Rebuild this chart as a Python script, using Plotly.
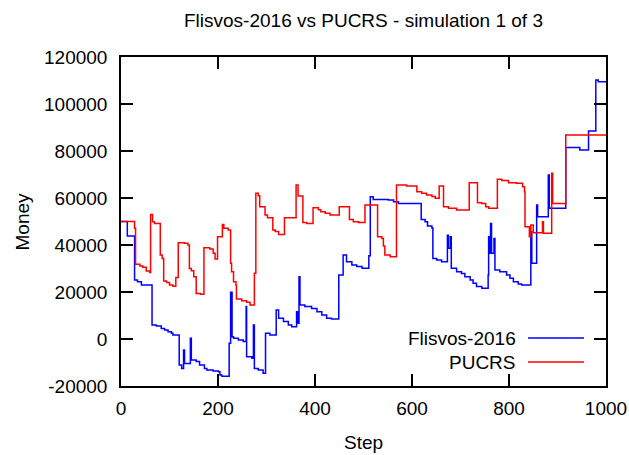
import plotly.graph_objects as go

# ---------------- data (step-function breakpoints) ----------------
flisvos_steps = [0, 13, 28, 34, 42, 64, 73, 83, 90, 97, 104, 107, 120, 125, 129, 131, 143, 145, 155, 162,
                 172, 177, 190, 201, 204, 208, 223, 226, 229, 232, 242, 252, 258, 259, 270, 273, 275, 283,
                 293, 298, 307, 320, 325, 335, 345, 352, 362, 364, 367, 369, 379, 393, 404, 414, 424, 434,
                 449, 458, 465, 476, 486, 497, 511, 514, 520, 551, 562, 572, 619, 627, 632, 641, 643, 651,
                 661, 673, 675, 679, 681, 692, 702, 709, 720, 726, 733, 744, 757, 758, 760, 762, 764, 769,
                 771, 781, 795, 802, 809, 819, 826, 845, 847, 857, 859, 881, 883, 917, 946, 964, 979, 984,
                 1000]
flisvos_money = [50000, 43800, 25100, 24400, 23000, 6000, 5500, 4500, 3800, 3100, 2400, 1700, -11100, -12500,
                 -4700, -10400, 300, -8900, -9600, -11100, -12500, -13200, -13600, -13900, -15300, -15800,
                 -1800, 19900, 1000, 300, -400, -1100, 13800, -7500, -8200, 6000, -12500, -13200, -14600,
                 2400, 1700, 12300, 8800, 7400, 6000, 5200, 11600, 6700, 26500, 14500, 13800, 13000, 11600,
                 10200, 8800, 8500, 27200, 35700, 32900, 31500, 30800, 30100, 35400, 60500, 59400, 59100,
                 58400, 57700, 50900, 49900, 48100, 47200, 34300, 33600, 32900, 44200, 38600, 43500, 30100,
                 28600, 27900, 26500, 25100, 23700, 22300, 21600, 27200, 43500, 36500, 49200, 36500, 42800,
                 29400, 28600, 27200, 25800, 24400, 23400, 23000, 45600, 32200, 57000, 52000, 69800, 55600,
                 81500, 80400, 88500, 110200, 109500, 109500]

pucrs_steps = [0, 28, 30, 39, 45, 52, 59, 61, 65, 69, 81, 85, 88, 94, 100, 107, 113, 118, 131, 138, 141, 145,
               150, 155, 164, 171, 183, 190, 194, 199, 209, 212, 221, 226, 228, 232, 237, 238, 249, 259, 266,
               275, 278, 283, 286, 297, 302, 313, 318, 325, 337, 361, 365, 375, 383, 396, 407, 412, 421, 431,
               450, 471, 479, 490, 503, 529, 538, 541, 544, 555, 568, 589, 610, 620, 630, 641, 648, 656, 665,
               675, 692, 718, 735, 744, 752, 758, 776, 785, 799, 815, 828, 832, 833, 842, 845, 850, 869, 871,
               888, 890, 917, 1000]
pucrs_money = [50000, 47100, 31800, 31100, 30500, 28900, 28300, 53000, 49900, 49200, 35700, 34300, 24700,
               24000, 23000, 22500, 26200, 41000, 40700, 40000, 30000, 29000, 26500, 19400, 19000, 38800,
               38300, 36500, 34000, 43500, 48700, 47100, 46400, 32200, 28600, 24400, 23000, 17000, 16300,
               15600, 14500, 28000, 62000, 61000, 56300, 52800, 51600, 46400, 45700, 44500, 51600, 65500,
               60800, 49600, 49200, 55900, 55000, 54200, 53500, 52800, 56300, 50900, 49900, 49600, 57000,
               43500, 42800, 39600, 35700, 35000, 65500, 65100, 62700, 62000, 61300, 60600, 59900, 65100,
               56300, 55600, 54900, 66500, 58000, 57700, 56300, 55600, 68000, 67500, 66500, 66300, 64800,
               62700, 47800, 43500, 48500, 45200, 49900, 45000, 70500, 57700, 86800, 86800]

series_names = ["Flisvos-2016", "PUCRS"]
x_ticks = [0, 200, 400, 600, 800, 1000]
y_ticks = [-20000, 0, 20000, 40000, 60000, 80000, 100000, 120000]
y_tick_labels = ["-20000", "0", "20000", "40000", "60000", "80000", "100000", "120000"]
title_text = "Flisvos-2016 vs PUCRS - simulation 1 of 3"
x_title = "Step"
y_title = "Money"

# ---------------- figure ----------------
colors = ["#0000ff", "#ff0000"]
FONT = "Liberation Sans, Arial, Helvetica, sans-serif"
FS = 19

fig = go.Figure()
for name, xs, ys, c in [(series_names[0], flisvos_steps, flisvos_money, colors[0]),
                        (series_names[1], pucrs_steps, pucrs_money, colors[1])]:
    fig.add_trace(go.Scatter(x=xs, y=ys, mode="lines", name=name,
                             line=dict(color=c, width=1.5, shape="hv"),
                             showlegend=False))

W, H = 629, 455
L, R, T, B = 121, 23, 57, 69
pw, ph = W - L - R, H - T - B

def px2x(px):
    return (px - L) / pw

def py2y(py):
    return (H - B - py) / ph

axis_common = dict(showline=True, linecolor="black", linewidth=1.5, mirror="ticks",
                   ticks="inside", ticklen=12, tickwidth=1.5, tickcolor="black",
                   showgrid=False, zeroline=False, automargin=False,
                   tickfont=dict(family=FONT, size=FS, color="black"))

fig.update_layout(
    width=W, height=H,
    margin=dict(l=L, r=R, t=T, b=B, autoexpand=False),
    paper_bgcolor="white", plot_bgcolor="white",
    font=dict(family=FONT, size=FS, color="black"),
    title=dict(text=title_text, x=0.5, xref="paper", xanchor="center",
               y=1 - 20 / H, yref="container", yanchor="middle",
               font=dict(family=FONT, size=FS, color="black")),
    xaxis=dict(range=[0, 1000], tickvals=x_ticks, ticklabelstandoff=4, **axis_common),
    yaxis=dict(range=[-20000, 120000], tickvals=y_ticks, ticktext=y_tick_labels,
               ticklabelstandoff=8, **axis_common),
    showlegend=False,
)

annotations = [
    dict(text=x_title, x=0.5, y=py2y(443), xref="paper", yref="paper", showarrow=False,
         xanchor="center", yanchor="middle", font=dict(family=FONT, size=FS, color="black")),
    dict(text=y_title, x=px2x(22), y=0.5, xref="paper", yref="paper", showarrow=False,
         textangle=-90, xanchor="center", yanchor="middle", font=dict(family=FONT, size=FS, color="black")),
]
shapes = []
for i, (name, c) in enumerate(zip(series_names, colors)):
    ly = 338 + 24 * i
    annotations.append(dict(text=name, x=px2x(518), y=py2y(ly), xref="paper", yref="paper",
                            showarrow=False, xanchor="right", yanchor="middle",
                            font=dict(family=FONT, size=FS, color="black")))
    shapes.append(dict(type="line", xref="paper", yref="paper", x0=px2x(528), x1=px2x(584),
                       y0=py2y(ly), y1=py2y(ly), line=dict(color=c, width=1.5)))
fig.update_layout(annotations=annotations, shapes=shapes)

fig.write_html("out.html", config={"displayModeBar": False},
               post_script="document.body.style.margin='0';document.body.style.overflow='hidden';")
